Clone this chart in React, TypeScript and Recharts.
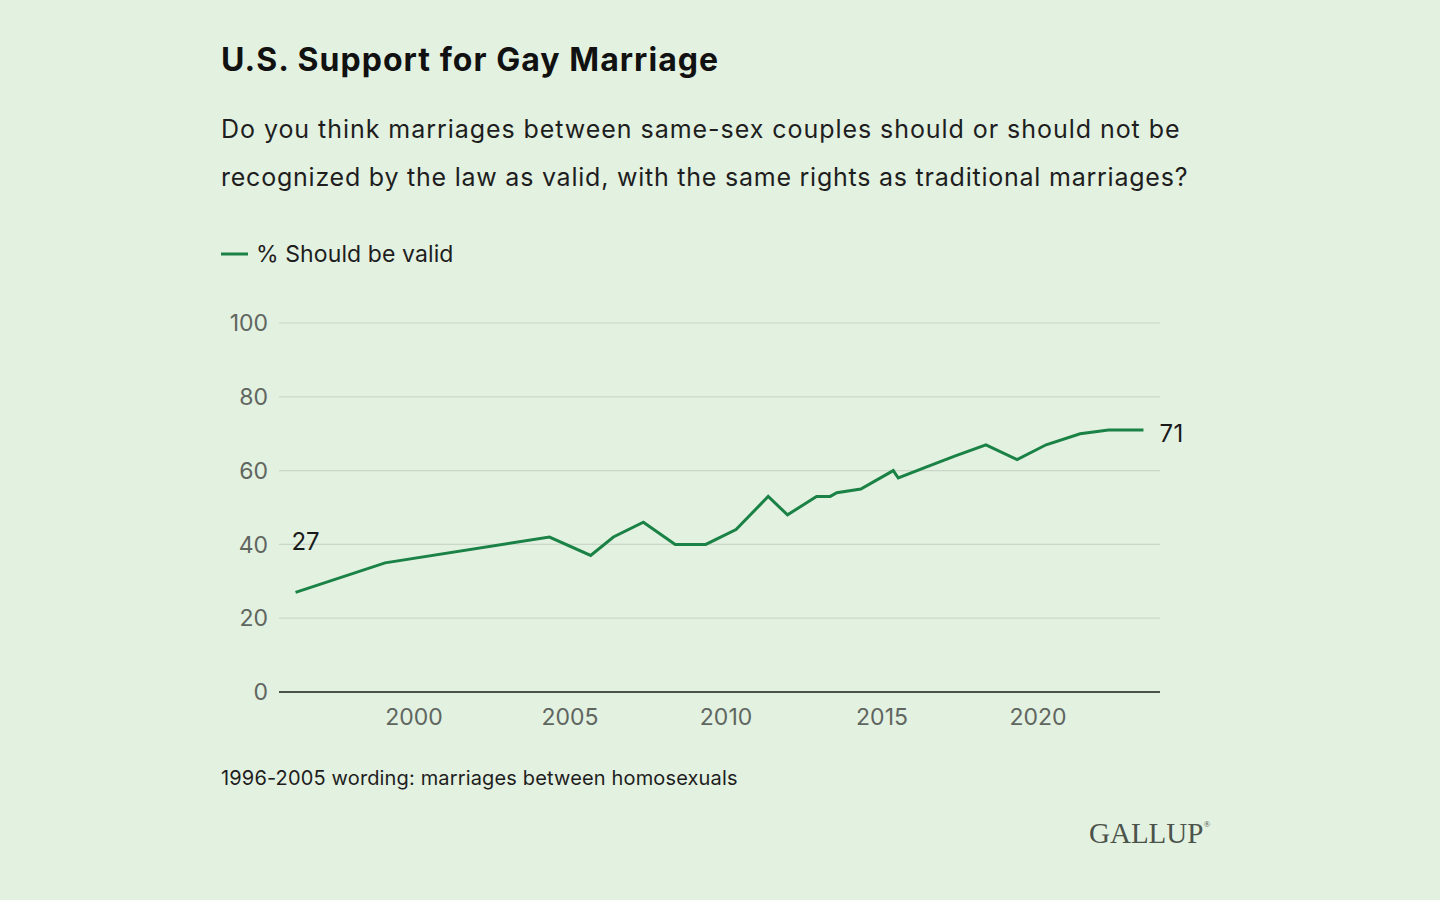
import React from "react";
import { LineChart, Line, XAxis, YAxis, CartesianGrid } from "recharts";

const years = [1996.2, 1999.07, 2004.34, 2005.66, 2006.39, 2007.35, 2008.37, 2009.35, 2010.32, 2011.35, 2011.97, 2012.9, 2013.34, 2013.55, 2014.32, 2015.36, 2015.52, 2016.43, 2017.35, 2018.33, 2019.33, 2020.26, 2021.35, 2022.26, 2023.38];
const shouldBeValid = [27, 35, 42, 37, 42, 46, 40, 40, 44, 53, 48, 53, 53, 54, 55, 60, 58, 61, 64, 67, 63, 67, 70, 71, 71];
const xTicks = [2000, 2005, 2010, 2015, 2020];
const yTicks = [0, 20, 40, 60, 80, 100];

const title = "U.S. Support for Gay Marriage";
const subtitleLines = [
  "Do you think marriages between same-sex couples should or should not be",
  "recognized by the law as valid, with the same rights as traditional marriages?",
];
const legendLabel = "% Should be valid";
const footnote = "1996-2005 wording: marriages between homosexuals";

const data = years.map((y, i) => ({ year: y, value: shouldBeValid[i] }));

const BG = "#e3f1e1";
const GREEN = "#1b8246";
const FONT = "Inter, 'Noto Sans', sans-serif";

const renderLabel = (props: any) => {
  const { x, y, index, value } = props;
  if (index === 0) {
    return (
      <text x={x + 10} y={y - 51} textAnchor="middle" dominantBaseline="central" fontSize={24} fill="#1a1a1a" fontFamily={FONT}>
        {value}
      </text>
    );
  }
  if (index === data.length - 1) {
    return (
      <text x={x + 16} y={y + 3} textAnchor="start" dominantBaseline="central" fontSize={24} fill="#1a1a1a" fontFamily={FONT} letterSpacing={0.5}>
        {value}
      </text>
    );
  }
  return null;
};

export default function App() {
  return (
    <div style={{ position: "absolute", left: 0, top: 0, width: 1440, height: 900, background: BG, overflow: "hidden" }}>
      <svg width={1440} height={900} style={{ position: "absolute", left: 0, top: 0 }}>
        <text x={221} y={71} fontFamily={FONT} fontWeight={700} fontSize={32} letterSpacing={1.05} fill="#111">{title}</text>
        {subtitleLines.map((t, i) => (
          <text key={i} x={221} y={138 + i * 47.5} fontFamily={FONT} fontSize={25} letterSpacing={i === 0 ? 0.95 : 0.77} fill="#1e1e1e">{t}</text>
        ))}
        <line x1={221} x2={248} y1={254} y2={254} stroke={GREEN} strokeWidth={3} />
        <text x={256} y={262} fontFamily={FONT} fontSize={23} fill="#1e1e1e" letterSpacing={0.1}>{legendLabel}</text>
        <text x={221} y={785} fontFamily={FONT} fontSize={20} fill="#1e1e1e" letterSpacing={0.15}>{footnote}</text>
        <text x={1089} y={843} fontFamily="'Liberation Serif', 'DejaVu Serif', serif" fontSize={29} fill="#4b534b">
          GALLUP<tspan fontSize={9} dy={-16}>®</tspan>
        </text>
      </svg>
      <div style={{ position: "absolute", left: 200, top: 300 }}>
        <LineChart width={1020} height={442} data={data} margin={{ top: 23, right: 60, bottom: 0, left: 0 }}>
          <CartesianGrid horizontal={true} vertical={false} stroke="#cbd8c9" strokeWidth={1.2} />
          <XAxis
            dataKey="year"
            type="number"
            domain={[1995.67, 2023.91]}
            ticks={xTicks}
            allowDataOverflow
            tickSize={0}
            tickMargin={17}
            height={50}
            axisLine={{ stroke: "#4a544a", strokeWidth: 2 }}
            tickLine={false}
            tick={{ fill: "#5f665f", fontSize: 23, fontFamily: FONT }}
          />
          <YAxis
            type="number"
            domain={[0, 100]}
            ticks={yTicks}
            width={79}
            tickSize={0}
            tickMargin={11}
            axisLine={false}
            tickLine={false}
            tick={{ fill: "#5f665f", fontSize: 23, fontFamily: FONT }}
          />
          <Line
            type="linear"
            dataKey="value"
            stroke={GREEN}
            strokeWidth={3}
            dot={false}
            activeDot={false}
            isAnimationActive={false}
            label={renderLabel}
          />
        </LineChart>
      </div>
    </div>
  );
}
